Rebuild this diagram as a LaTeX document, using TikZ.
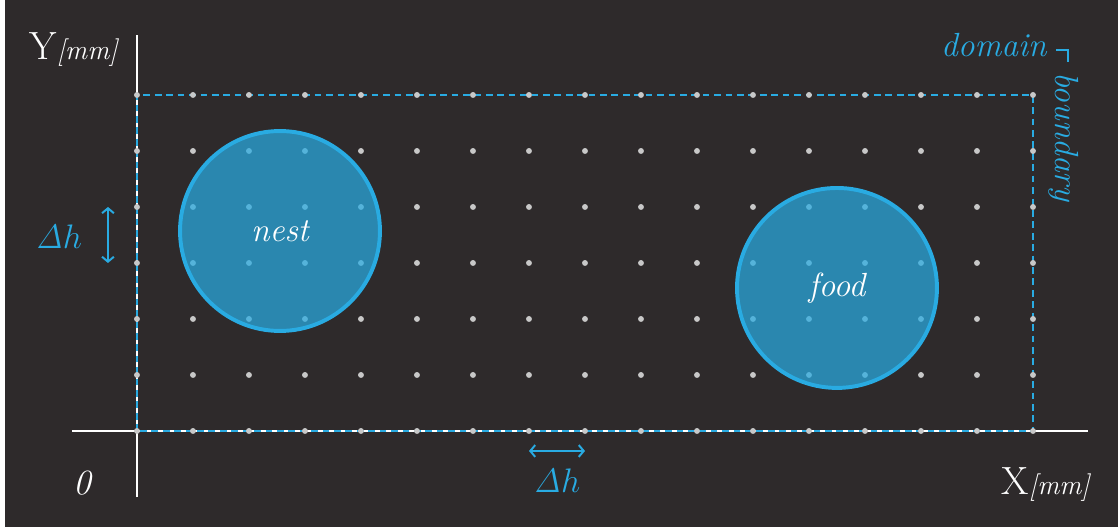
\documentclass[tikz,border=0pt]{standalone}
\usepackage{amsmath}
\usepackage{tikz}
\usepackage{xcolor}
\usetikzlibrary{arrows.meta, positioning, calc}

\definecolor{bgdark}{HTML}{2E2A2B}
\definecolor{skyblue}{HTML}{29ABE2}
\definecolor{dotgray}{HTML}{C8C8C8}

\begin{document}
\begin{tikzpicture}[x=1cm,y=1cm,
    txt/.style={inner sep=0pt, font=\fontsize{17}{20}\selectfont\itshape},
    axislbl/.style={inner sep=0pt, text=white, font=\fontsize{20}{24}\selectfont},
    blob/.style={circle, draw=skyblue, line width=2pt, fill=skyblue, fill opacity=0.72,
      text opacity=1, text=white, minimum size=3.57cm, txt},
    gap/.style={skyblue, line width=1pt, {Straight Barb[length=2.5pt,width=6pt]}-{Straight Barb[length=2.5pt,width=6pt]}}]
  \def\nx{16}
  \def\ny{6}
  % background with thin white edge
  \fill[white] (-2.446,-1.786) rectangle (17.518,7.696);
  \fill[bgdark] (-2.357,-1.714) rectangle (17.518,7.696);
  \useasboundingbox (-2.446,-1.786) rectangle (17.518,7.696);
  % axes
  \draw[white,line width=1.2pt] (-1.161,0) -- (16.982,0);
  \draw[white,line width=1.2pt] (0,-1.179) -- (0,7.071);
  % domain boundary
  \draw[skyblue,line width=1pt,dash pattern=on 3.4pt off 2.4pt] (0,0) rectangle (\nx,\ny);
  % grid points
  \foreach \i in {0,...,\nx}{
    \foreach \j in {0,...,\ny}{
      \fill[dotgray] (\i,\j) circle (1.5pt);
    }
  }
  % nest and food
  \node[blob] (nest) at (2.554,3.571) {nest};
  \node[blob] (food) at (12.5,2.554) {food};
  % axis labels
  \node[axislbl,anchor=base east] (ylbl) at (-0.339,6.625)
    {Y{\fontsize{14}{16}\selectfont\itshape[mm]}};
  \node[axislbl,anchor=base east] (xlbl) at (17.018,-1.143)
    {X{\fontsize{14}{16}\selectfont\itshape[mm]}};
  \node[txt,text=white,font=\fontsize{18}{20}\selectfont\itshape,anchor=base] (zero) at (-0.982,-1.143) {0};
  % grid spacing
  \coordinate (vtop) at (-0.518,4);
  \coordinate (vbot) at (-0.518,3);
  \draw[gap] (vbot) -- (vtop);
  \node[txt,text=skyblue,anchor=base] (dhy) at (-1.393,3.25) {$\mathit{\Delta}h$};
  \coordinate (hleft) at (7,-0.357);
  \coordinate (hright) at (8,-0.357);
  \draw[gap] (hleft) -- (hright);
  \node[txt,text=skyblue,anchor=base] (dhx) at (7.5,-1.09) {$\mathit{\Delta}h$};
  % boundary label
  \node[txt,text=skyblue,anchor=base east] (dom) at (16.25,6.68) {domain};
  \node[txt,text=skyblue,anchor=base west,rotate=-90] (bnd) at (16.393,6.41) {boundary};
  \coordinate (kink) at (16.625,6.804);
  \draw[skyblue,line width=1pt] (16.411,6.804) -- (kink) -- ++(0,-0.215);
\end{tikzpicture}
\end{document}
